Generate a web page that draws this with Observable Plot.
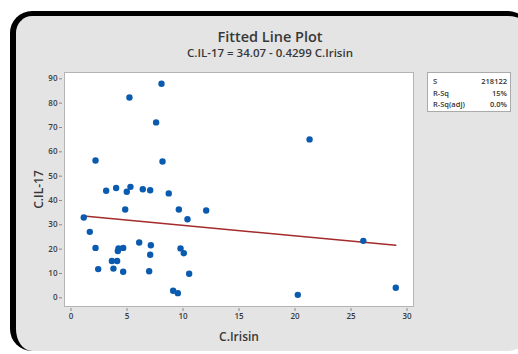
<!DOCTYPE html>
<html>
<head>
<meta charset="utf-8">
<script src="https://cdn.jsdelivr.net/npm/d3@7"></script>
<script src="https://cdn.jsdelivr.net/npm/@observablehq/plot@0.6"></script>
<style>
  html, body { margin: 0; padding: 0; background: #fff; }
  body { width: 518px; height: 354px; position: relative; overflow: hidden; font-family: "Open Sans", "Noto Sans", sans-serif; }
  #box { position: absolute; left: 10px; top: 11px; width: 520px; height: 340px;
         background: #e4e4e4; border-top: 5px solid #000; border-left: 6px solid #000;
         border-radius: 22px; box-sizing: border-box; }
  #title { position: absolute; left: 0; width: 540px; top: 27px; text-align: center; font-size: 14.5px; font-weight: 600; color: #383838; }
  #subtitle { position: absolute; left: 0; width: 540px; top: 45px; text-align: center; font-size: 11.5px; font-weight: 600; color: #383838; }
  #chart { position: absolute; left: 0; top: 0; }
  #stats { position: absolute; left: 427px; top: 72px; width: 84px; height: 40px; background: #fff;
           border: 1px solid #aaa; box-sizing: border-box; font-size: 7.5px; font-weight: 600; color: #333; padding: 3px 3px 0 5px; }
  #stats .row { display: flex; justify-content: space-between; line-height: 11.5px; }
</style>
</head>
<body>
<div id="box"></div>
<div id="title">Fitted Line Plot</div>
<div id="subtitle">C.IL-17 = 34.07 - 0.4299 C.Irisin</div>
<div id="chart"></div>
<div id="stats"></div>
<script>
const irisin = [1.14, 1.68, 2.19, 2.19, 2.43, 3.14, 3.65, 3.79, 4.03, 4.12,
                4.18, 4.24, 4.66, 4.66, 4.84, 4.98, 5.22, 5.31, 6.09, 6.41,
                6.98, 7.07, 7.07, 7.13, 7.60, 8.08, 8.17, 8.73, 9.12, 9.54,
                9.63, 9.78, 10.07, 10.40, 10.55, 12.07, 21.3, 26.1, 20.25, 29.0];
const il17 =   [33.0, 27.1, 56.4, 20.5, 11.8, 44.0, 15.1, 12.0, 45.1, 15.1,
                19.2, 20.3, 20.5, 10.7, 36.3, 43.6, 82.3, 45.6, 22.7, 44.6,
                10.9, 44.2, 17.7, 21.6, 72.1, 88.0, 56.0, 42.9, 2.9, 1.9,
                36.3, 20.3, 18.3, 32.3, 9.9, 35.9, 65.1, 23.4, 1.2, 4.1];
// Fitted equation coefficients
const intercept = 34.07;
const slope = -0.4299;
// Tick values
const xTicks = [0, 5, 10, 15, 20, 25, 30];
const yTicks = [0, 10, 20, 30, 40, 50, 60, 70, 80, 90];
// Stats table
const statNames = ["S", "R-Sq", "R-Sq(adj)"];
const statValues = ["218122", "15%", "0.0%"];

const points = irisin.map((x, i) => ({x, y: il17[i]}));
const xExt = d3.extent(irisin);
const fit = xExt.map(x => ({x, y: intercept + slope * x}));

const plot = Plot.plot({
  width: 518,
  height: 354,
  marginLeft: 64,
  marginRight: 105,
  marginTop: 72,
  marginBottom: 48,
  style: {background: "transparent", fontFamily: "'Open Sans', sans-serif", overflow: "visible"},
  x: {domain: [-0.58, 30.58]},
  y: {domain: [-3.58, 92.6]},
  marks: [
    Plot.frame({fill: "white", stroke: "#b4b4b4"}),
    Plot.axisX({ticks: xTicks, tickSize: 3, tickPadding: 2, dy: 2, fontSize: 8, fontWeight: 600, fill: "#3a3a3a", stroke: "#888",
                label: "C.Irisin", labelAnchor: "center", labelArrow: "none", labelOffset: 34}),
    Plot.axisY({ticks: yTicks, tickSize: 3, tickPadding: 2, dx: -2, fontSize: 8, fontWeight: 600, fill: "#3a3a3a", stroke: "#888",
                label: "C.IL-17", labelAnchor: "center", labelArrow: "none", labelOffset: 30}),
    Plot.line(fit, {x: "x", y: "y", stroke: "#a52a2a", strokeWidth: 1.5}),
    Plot.dot(points, {x: "x", y: "y", r: 3.2, fill: "#0a5bb0", stroke: "none"})
  ]
});
document.getElementById("chart").appendChild(plot);
d3.select(plot).selectAll("[aria-label='x-axis label'] text, [aria-label='y-axis label'] text")
  .style("font-size", "12px").style("font-weight", "600").style("fill", "#383838");

const stats = d3.select("#stats");
statNames.forEach((n, i) => {
  const row = stats.append("div").attr("class", "row");
  row.append("span").text(n);
  row.append("span").text(statValues[i]);
});
</script>
</body>
</html>
